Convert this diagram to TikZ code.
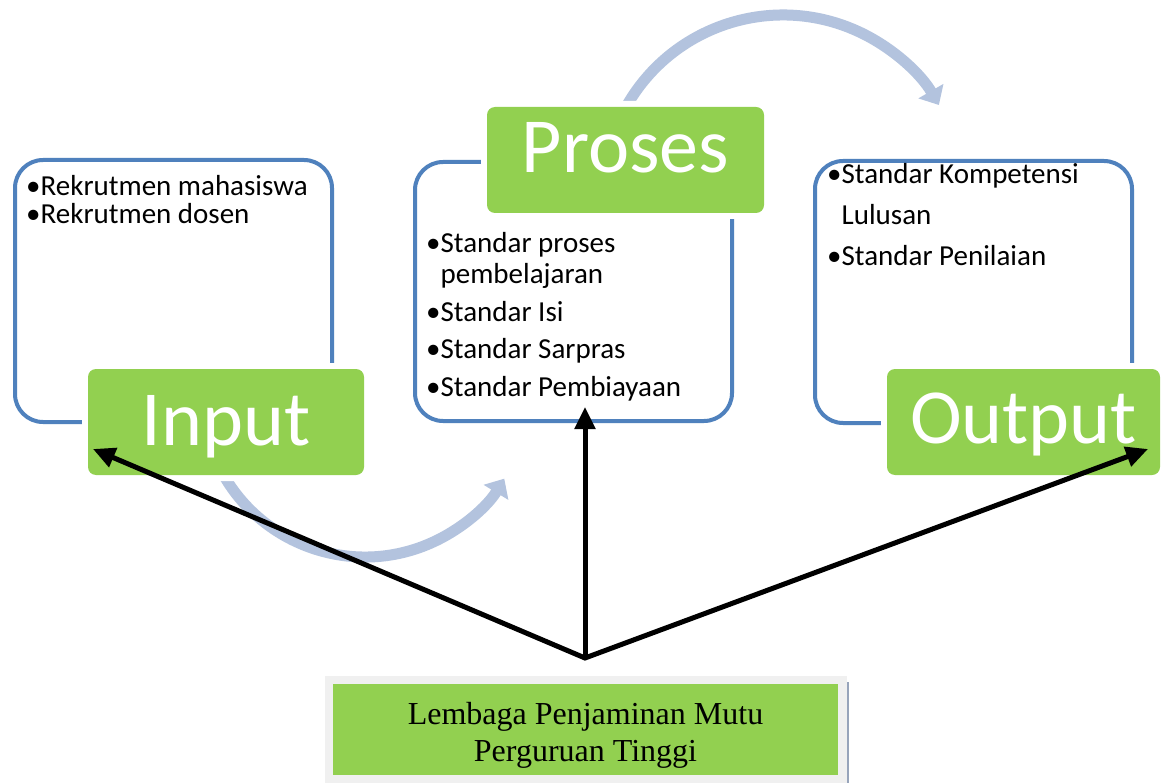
\documentclass[tikz,border=0pt]{standalone}
\usepackage{fontspec}
\setmainfont{Carlito}
\newfontfamily\timesfont{Liberation Serif}
\usetikzlibrary{arrows.meta}
\definecolor{boxblue}{HTML}{4F81BD}
\definecolor{pgreen}{HTML}{92D050}
\definecolor{arcblue}{HTML}{B3C3DE}
\definecolor{lpmgray}{HTML}{F0F0F0}
\definecolor{edgegray}{HTML}{97A4BB}
\begin{document}
\begin{tikzpicture}[x=1pt,y=1pt,
  framebox/.style={draw=boxblue, line width=4pt, rounded corners=28pt},
  gbox/.style={rectangle, rounded corners=8pt, fill=pgreen,
    preaction={draw=white, line width=12pt}, text=white,
    font=\fontsize{78}{78}\selectfont, inner sep=0pt, text height=50pt},
  item/.style={anchor=base west, inner sep=0pt, font=\fontsize{29}{30}\selectfont},
  cyc/.style={draw=arcblue, line width=11pt, -{Triangle[length=16pt,width=28pt]}},
  feed/.style={draw=black, line width=5pt, line join=miter},
  feedtip/.style={-{Triangle[length=22pt,width=20pt]}},
]
\useasboundingbox (0,0) rectangle (1161,-783);
\fill[white] (0,0) rectangle (1161,-783);

% blue frames
\draw[framebox] (15,-160) rectangle (332,-422);
\draw[framebox] (415,-162) rectangle (732,-421);
\draw[framebox] (815,-161) rectangle (1132,-423);

% cycle arrows
\draw[cyc] (365,-394) ++(205:163) arc[start angle=205, end angle=328.7, radius=163];
\draw[cyc] (783,-195) ++(153:180) arc[start angle=153, end angle=30, radius=180];

% green title boxes
\node[gbox, minimum width=276pt, minimum height=106pt, text depth=4pt] (inp) at (226,-422) {Input};
\node[gbox, minimum width=277pt, minimum height=106pt, text depth=24pt] (pro) at (625.5,-160) {Proses};
\node[gbox, minimum width=273pt, minimum height=106pt, text depth=8pt] (out) at (1023.5,-422) {Output};

% items
\node[item] (i1) at (26,-196) {•Rekrutmen mahasiswa};
\node[item] (i2) at (26,-224) {•Rekrutmen dosen};

\node[item] (p1) at (426,-253) {•Standar proses};
\node[item] (p1b) at (426,-284) {\phantom{•}pembelajaran};
\node[item] (p2) at (426,-322) {•Standar Isi};
\node[item] (p3) at (426,-359) {•Standar Sarpras};
\node[item] (p4) at (426,-396) {•Standar Pembiayaan};

\node[item] (o1) at (827,-184) {•Standar Kompetensi};
\node[item] (o1b) at (827,-225) {\phantom{•}Lulusan};
\node[item] (o2) at (827,-266) {•Standar Penilaian};

% bottom box
\fill[lpmgray] (325,-676) rectangle (847,-783);
\draw[edgegray, line width=2.5pt] (848,-682) -- (848,-783);
\node[rectangle, fill=pgreen, inner sep=0pt, minimum width=505pt, minimum height=91pt,
  align=center, font=\timesfont\fontsize{32}{37}\selectfont] (lpm) at (585.5,-729.5)
  {\rule{0pt}{33pt}Lembaga Penjaminan Mutu\\Perguruan Tinggi};

% feedback arrows
\coordinate (hub) at (585,-658);
\coordinate (tipIn) at (93,-449);
\coordinate (tipPro) at (585,-407);
\coordinate (tipOut) at (1148,-449);
\draw[feed, {Triangle[length=22pt,width=20pt]}-{Triangle[length=22pt,width=20pt]}] (tipIn) -- (hub) -- (tipOut);
\draw[feed, feedtip] (hub) -- (tipPro);
\end{tikzpicture}
\end{document}
